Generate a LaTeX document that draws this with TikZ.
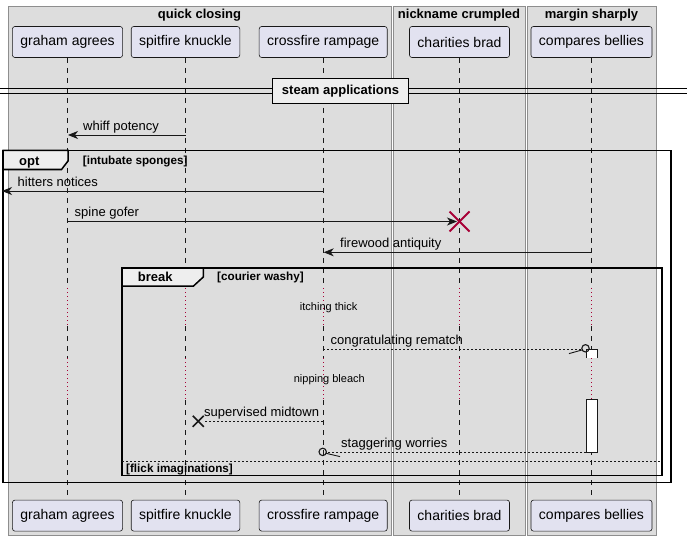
\documentclass[tikz,border=0pt]{standalone}
\usepackage{fontspec}
\setmainfont{Liberation Sans}
\usetikzlibrary{arrows.meta,positioning}

\definecolor{groupbg}{HTML}{DDDDDD}
\definecolor{groupline}{HTML}{8E8E8E}
\definecolor{partbg}{HTML}{E2E2F0}
\definecolor{umlline}{HTML}{181818}
\definecolor{tabbg}{HTML}{EEEEEE}
\definecolor{killred}{HTML}{A80036}

\begin{document}
\begin{tikzpicture}[x=1pt,y=-1pt,>={Stealth[length=10pt,width=8pt,inset=3pt]},
                    line join=miter]
  \tikzstyle{participant}=[draw=umlline,line width=0.6pt,fill=partbg,rounded corners=2.5pt,
                           minimum height=31pt,inner xsep=8pt,font=\fontsize{14}{16}\selectfont]
  \tikzstyle{groupbox}=[draw=groupline,line width=0.8pt,fill=groupbg]
  \tikzstyle{grouptitle}=[anchor=base,inner sep=0pt,font=\bfseries\fontsize{13}{15}\selectfont]
  \tikzstyle{lifeline}=[umlline,line width=0.5pt,dash pattern=on 5pt off 5pt]
  \tikzstyle{delayline}=[killred,line width=0.7pt,dash pattern=on 1pt off 3pt]
  \tikzstyle{msg}=[->,umlline,line width=0.9pt]
  \tikzstyle{reply}=[umlline,line width=0.9pt,dash pattern=on 2pt off 2pt]
  \tikzstyle{msglabel}=[anchor=base west,inner sep=0pt,font=\fontsize{13}{15}\selectfont]
  \tikzstyle{delaylabel}=[inner sep=0pt,font=\fontsize{11}{13}\selectfont]
  \tikzstyle{frame}=[draw=black,line width=1.5pt]
  \tikzstyle{tab}=[draw=black,line width=1.5pt,fill=tabbg]
  \tikzstyle{framelabel}=[anchor=base west,inner sep=0pt,font=\bfseries\fontsize{13}{15}\selectfont]
  \tikzstyle{guard}=[anchor=base west,inner sep=0pt,font=\bfseries\fontsize{11.7}{14}\selectfont]
  \tikzstyle{divider}=[draw=black,line width=1.5pt,fill=tabbg,minimum height=25pt,inner xsep=9.5pt,
                       font=\bfseries\fontsize{13}{15}\selectfont]
  \tikzstyle{activation}=[draw=umlline,line width=0.9pt,fill=white]

  \useasboundingbox (0,0) rectangle (687,540);

  % boxes
  \draw[groupbox] (8,6) rectangle (391,535);
  \draw[groupbox] (393,6) rectangle (525,535);
  \draw[groupbox] (527,6) rectangle (656,535);
  \node[grouptitle] (qc) at (199.5,18.7) {quick closing};
  \node[grouptitle] (nc) at (459,18.7) {nickname crumpled};
  \node[grouptitle] (ms) at (591.5,18.7) {margin sharply};

  % participants
  \node[participant] (ga) at (67.5,42) {graham agrees};
  \node[participant] (sk) at (185.5,42) {spitfire knuckle};
  \node[participant] (cr) at (323.2,42) {crossfire rampage};
  \node[participant] (cb) at (459.5,42) {charities brad};
  \node[participant] (cp) at (591.5,42) {compares bellies};
  \node[participant, below=442pt of ga] (ga-b) {graham agrees};
  \node[participant, below=442pt of sk] (sk-b) {spitfire knuckle};
  \node[participant, below=442pt of cr] (cr-b) {crossfire rampage};
  \node[participant, below=442pt of cb] (cb-b) {charities brad};
  \node[participant, below=442pt of cp] (cp-b) {compares bellies};

  % lifelines, dotted through the two delays
  \foreach \p in {ga,sk,cr,cb,cp}{
    \draw[lifeline] (\p.south) -- (\p.south |- 0,288);
    \draw[delayline] (\p.south |- 0,288) -- (\p.south |- 0,326);
    \draw[lifeline] (\p.south |- 0,326) -- (\p.south |- 0,358);
    \draw[delayline] (\p.south |- 0,358) -- (\p.south |- 0,400);
    \draw[lifeline] (\p.south |- 0,400) -- (\p-b.north);
  }

  % activation of compares bellies
  \fill[white] (586,349.3) rectangle (597,357.7);
  \draw[umlline,line width=0.9pt] (586,357.7) -- (586,349.3) -- (597,349.3) -- (597,357.7);
  \draw[activation] (586,399) rectangle (597,452.3);

  % divider
  \coordinate (divL) at (0,91.2);
  \coordinate (divR) at (687,91.2);
  \draw[black,line width=0.9pt] ([yshift=2.25pt]divL) -- ([yshift=2.25pt]divR);
  \draw[black,line width=0.9pt] ([yshift=-2.25pt]divL) -- ([yshift=-2.25pt]divR);
  \node[divider] (steam) at (340.5,91) {steam applications};

  % opt frame
  \draw[frame] (3,150.5) rectangle (671,482.5);
  \draw[tab] (3,150.5) -- (68,150.5) -- (68,161) -- (61.5,169.5) -- (3,169.5) -- cycle;
  \node[framelabel] (opt) at (19,165) {opt};
  \node[guard] (optg) at (82.7,164.5) {[intubate sponges]};

  % break frame
  \draw[frame] (122,268) rectangle (662,475.5);
  \draw[tab] (122,268) -- (203.3,268) -- (203.3,277) -- (193.5,286) -- (122,286) -- cycle;
  \node[framelabel] (brk) at (137.7,281.5) {break};
  \node[guard] (brkg) at (217,280.5) {[courier washy]};
  \draw[reply] (122,461.7) -- (662,461.7);
  \node[guard] (elseg) at (126,472.5) {[flick imaginations]};

  % message ends
  \coordinate (whiffA) at (185.5,135);
  \coordinate (whiffB) at (68,135);
  \coordinate (hitA) at (323.2,191);
  \coordinate (hitB) at (2,191);
  \coordinate (spineA) at (67.5,221.5);
  \coordinate (spineB) at (457,221.5);
  \coordinate (cbX) at (459.5,221.5);
  \coordinate (fireA) at (591.5,252.3);
  \coordinate (fireB) at (323.7,252.3);
  \coordinate (congA) at (323.2,349.3);
  \coordinate (congB) at (581.8,349.3);
  \coordinate (congO) at (585.5,348.3);
  \coordinate (supA) at (323.2,421.3);
  \coordinate (supB) at (204,421.3);
  \coordinate (skX) at (198.3,421.3);
  \coordinate (stagA) at (586,452.3);
  \coordinate (stagB) at (326.4,452.3);
  \coordinate (stagO) at (322.7,451.9);

  % messages
  \draw[msg] (whiffA) -- (whiffB);
  \node[msglabel] (l1) at (83,130.5) {whiff potency};
  \draw[msg] (hitA) -- (hitB);
  \node[msglabel] (l2) at (17.5,186.5) {hitters notices};
  \draw[msg] (spineA) -- (spineB);
  \node[msglabel] (l3) at (74.5,216.8) {spine gofer};
  \draw[killred,line width=1.8pt] ([shift={(-10pt,-10pt)}]cbX) -- ([shift={(10pt,10pt)}]cbX);
  \draw[killred,line width=1.8pt] ([shift={(-10pt,10pt)}]cbX) -- ([shift={(10pt,-10pt)}]cbX);
  \draw[msg] (fireA) -- (fireB);
  \node[msglabel] (l4) at (340,247.6) {firewood antiquity};

  \node[delaylabel] (d1) at (328.7,307.3) {itching thick};
  \draw[reply] (congA) -- (congB);
  \draw[umlline,line width=1.1pt] (congO) circle[radius=3.7pt];
  \draw[umlline,line width=0.9pt] (569,353.6) -- ([xshift=-3.2pt,yshift=-1.6pt]congO);
  \node[msglabel] (l5) at (330.5,344.8) {congratulating rematch};

  \node[delaylabel] (d2) at (329.3,379.3) {nipping bleach};
  \draw[reply] (supA) -- (supB);
  \draw[umlline,line width=1.6pt] ([shift={(-5.5pt,-5.5pt)}]skX) -- ([shift={(5.5pt,5.5pt)}]skX);
  \draw[umlline,line width=1.6pt] ([shift={(-5.5pt,5.5pt)}]skX) -- ([shift={(5.5pt,-5.5pt)}]skX);
  \node[msglabel] (l6) at (204,416.8) {supervised midtown};

  \draw[reply] (stagA) -- (stagB);
  \draw[umlline,line width=1.1pt] (stagO) circle[radius=3.7pt];
  \draw[umlline,line width=0.9pt] ([xshift=3.4pt,yshift=-1.4pt]stagO) -- (340,456.6);
  \node[msglabel] (l7) at (341,447.8) {staggering worries};
\end{tikzpicture}
\end{document}
